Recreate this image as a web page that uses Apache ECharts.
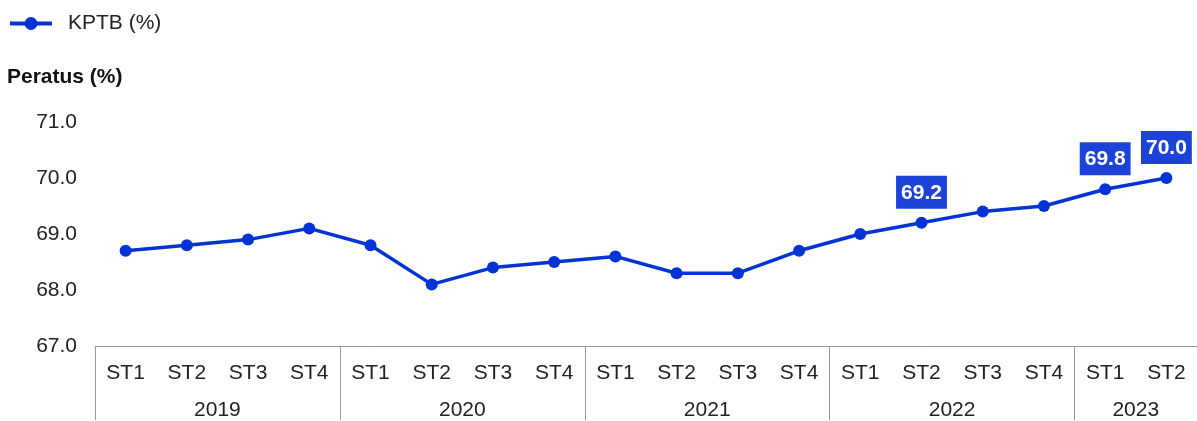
<!DOCTYPE html>
<html>
<head>
<meta charset="utf-8">
<script src="https://cdn.jsdelivr.net/npm/echarts@6/dist/echarts.min.js"></script>
<style>
  html, body { margin: 0; padding: 0; background: #fff; }
  #chart { width: 1197px; height: 421px; }
</style>
</head>
<body>
<div id="chart"></div>
<script>
// data
var quarters = ['ST1', 'ST2', 'ST3', 'ST4', 'ST1', 'ST2', 'ST3', 'ST4', 'ST1', 'ST2', 'ST3', 'ST4',
  'ST1', 'ST2', 'ST3', 'ST4', 'ST1', 'ST2'];
var years = ['2019', '2020', '2021', '2022', '2023'];
var yearCenters = [2, 6, 10, 14, 17];   // middle of each year group, in category units
var kptb = [68.7, 68.8, 68.9, 69.1, 68.8, 68.1, 68.4, 68.5, 68.6, 68.3, 68.3, 68.7,
  69.0, 69.2, 69.4, 69.5, 69.8, 70.0];
var labelled = [13, 16, 17];  // points with value boxes
var yTicks = [67, 68, 69, 70, 71];

var fontFamily = '"Liberation Sans", Arial, sans-serif';
var fontSize = 21;
var lineColor = '#0333d4';
var boxColor = '#1d42d8';

var seriesData = kptb.map(function (v, i) {
  var item = { value: v };
  if (labelled.indexOf(i) > -1) {
    item.label = { show: true };
  }
  return item;
});

var option = {
  animation: false,
  textStyle: { fontFamily: fontFamily },
  title: {
    text: 'Peratus (%)',
    left: 7,
    top: 67,
    padding: 0,
    textStyle: { fontSize: fontSize, fontWeight: 'bold', color: '#111', fontFamily: fontFamily }
  },
  legend: {
    left: 8,
    top: 13,
    padding: 0,
    itemWidth: 42,
    itemHeight: 16,
    lineStyle: { width: 4 },
    textStyle: { fontSize: fontSize, color: '#222', fontFamily: fontFamily, padding: [0, 0, 0, 11] },
    data: ['KPTB (%)']
  },
  grid: { left: 95, right: -3, top: 122, bottom: 74, containLabel: false },
  xAxis: [{
    type: 'category',
    data: quarters,
    boundaryGap: true,
    axisLine: { show: true, lineStyle: { color: '#999', width: 1 } },
    axisTick: {
      show: true,
      length: 74,
      interval: function (index) { return index % 4 === 0; },
      lineStyle: { color: '#999', width: 1 }
    },
    axisLabel: { interval: 0, margin: 17, fontSize: fontSize, color: '#222', fontFamily: fontFamily },
    splitLine: { show: false }
  }, {
    type: 'value',
    position: 'bottom',
    min: 0,
    max: 18,
    axisLine: { show: false },
    axisTick: { show: false },
    splitLine: { show: false },
    axisLabel: {
      customValues: yearCenters,
      margin: 54,
      fontSize: fontSize,
      color: '#222',
      fontFamily: fontFamily,
      formatter: function (v) {
        var idx = yearCenters.indexOf(v);
        return idx > -1 ? years[idx] : '';
      }
    }
  }],
  yAxis: {
    type: 'value',
    min: yTicks[0],
    max: yTicks[yTicks.length - 1],
    interval: 1,
    axisLine: { show: false },
    axisTick: { show: false },
    splitLine: { show: false },
    axisLabel: {
      margin: 18,
      fontSize: fontSize,
      color: '#222',
      fontFamily: fontFamily,
      formatter: function (v) { return v.toFixed(1); }
    }
  },
  series: [{
    name: 'KPTB (%)',
    type: 'line',
    xAxisIndex: 0,
    data: seriesData,
    symbol: 'circle',
    symbolSize: 12,
    lineStyle: { color: lineColor, width: 3.5 },
    itemStyle: { color: lineColor },
    label: {
      show: false,
      position: 'top',
      distance: 8,
      color: '#fff',
      fontWeight: 'bold',
      fontSize: fontSize,
      lineHeight: 24,
      fontFamily: fontFamily,
      backgroundColor: boxColor,
      padding: [5, 5, 4, 5],
      formatter: function (p) { return p.value.toFixed(1); }
    }
  }]
};

var chart = echarts.init(document.getElementById('chart'));
chart.setOption(option);
</script>
</body>
</html>
